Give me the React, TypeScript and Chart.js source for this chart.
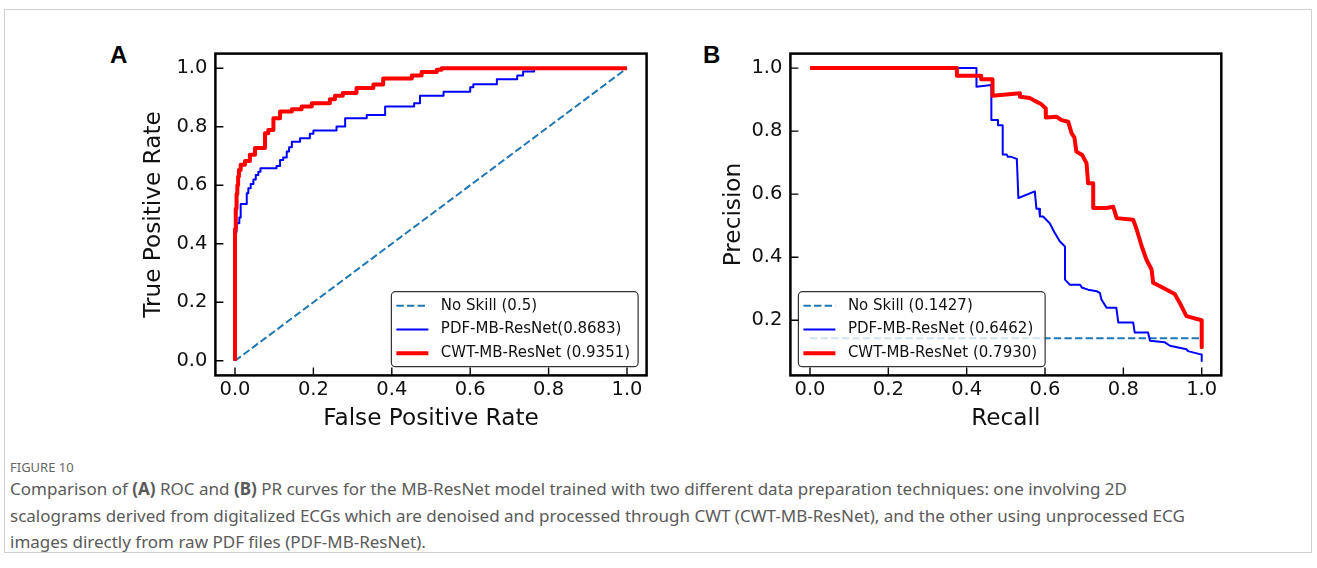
import React, { useEffect, useRef } from "react";
import { Chart, registerables } from "chart.js";

Chart.register(...registerables);

// ---------- data ----------
const X_TICKS = [0, 0.2, 0.4, 0.6, 0.8, 1.0];
const ROC_Y_TICKS = [0, 0.2, 0.4, 0.6, 0.8, 1.0];
const PR_Y_TICKS = [0.2, 0.4, 0.6, 0.8, 1.0];

const ROC_LABELS = ["No Skill (0.5)", "PDF-MB-ResNet(0.8683)", "CWT-MB-ResNet (0.9351)"];
const PR_LABELS = ["No Skill (0.1427)", "PDF-MB-ResNet (0.6462)", "CWT-MB-ResNet (0.7930)"];

const ROC_NOSKILL_FPR = [0, 1];
const ROC_NOSKILL_TPR = [0, 1];

const ROC_PDF_FPR = [0, 0, 0.004, 0.011, 0.0145, 0.03, 0.034, 0.04, 0.047, 0.053, 0.0595, 0.065, 0.106, 0.115, 0.123, 0.132, 0.138, 0.145, 0.166, 0.191, 0.2, 0.259, 0.281, 0.336, 0.383, 0.457, 0.472, 0.532, 0.6, 0.608, 0.668, 0.72, 0.735, 0.763, 1.0];
const ROC_PDF_TPR = [0, 0.44, 0.47, 0.49, 0.536, 0.573, 0.59, 0.604, 0.62, 0.635, 0.646, 0.658, 0.666, 0.686, 0.695, 0.715, 0.73, 0.749, 0.761, 0.776, 0.787, 0.801, 0.829, 0.84, 0.869, 0.88, 0.906, 0.92, 0.935, 0.945, 0.962, 0.975, 0.989, 1.0, 1.0];

const ROC_CWT_FPR = [0, 0, 0.002, 0.004, 0.006, 0.008, 0.01, 0.0145, 0.0255, 0.038, 0.051, 0.0765, 0.085, 0.098, 0.115, 0.145, 0.17, 0.196, 0.242, 0.255, 0.275, 0.31, 0.353, 0.378, 0.451, 0.476, 0.515, 0.527, 1.0];
const ROC_CWT_TPR = [0, 0.45, 0.52, 0.57, 0.6, 0.63, 0.652, 0.67, 0.683, 0.704, 0.727, 0.778, 0.789, 0.829, 0.852, 0.86, 0.869, 0.88, 0.894, 0.906, 0.915, 0.932, 0.944, 0.965, 0.975, 0.987, 0.995, 1.0, 1.0];

const PR_NOSKILL_RECALL = [0, 1];
const PR_NOSKILL_PRECISION = [0.1427, 0.1427];

const PR_PDF_RECALL = [0, 0.425, 0.425, 0.463, 0.463, 0.48, 0.48, 0.492, 0.492, 0.502, 0.505, 0.512, 0.528, 0.532, 0.574, 0.578, 0.585, 0.587, 0.595, 0.612, 0.625, 0.638, 0.651, 0.651, 0.663, 0.689, 0.695, 0.71, 0.732, 0.74, 0.744, 0.757, 0.782, 0.787, 0.825, 0.829, 0.863, 0.868, 0.906, 0.919, 0.961, 0.965, 1.0, 1.0];
const PR_PDF_PRECISION = [1.0, 1.0, 0.941, 0.946, 0.835, 0.835, 0.819, 0.819, 0.726, 0.726, 0.719, 0.719, 0.712, 0.588, 0.609, 0.554, 0.554, 0.529, 0.529, 0.508, 0.477, 0.45, 0.434, 0.329, 0.313, 0.313, 0.303, 0.297, 0.292, 0.287, 0.266, 0.24, 0.24, 0.193, 0.193, 0.161, 0.161, 0.135, 0.13, 0.119, 0.108, 0.102, 0.091, 0.071];

const PR_CWT_RECALL = [0, 0.375, 0.375, 0.437, 0.437, 0.466, 0.466, 0.536, 0.536, 0.561, 0.574, 0.591, 0.602, 0.602, 0.629, 0.642, 0.659, 0.668, 0.675, 0.68, 0.695, 0.706, 0.71, 0.723, 0.723, 0.757, 0.774, 0.783, 0.825, 0.834, 0.847, 0.859, 0.872, 0.876, 0.901, 0.931, 0.944, 0.961, 1.0, 1.0];
const PR_CWT_PRECISION = [1.0, 1.0, 0.976, 0.976, 0.965, 0.965, 0.912, 0.92, 0.909, 0.905, 0.896, 0.885, 0.872, 0.843, 0.846, 0.835, 0.83, 0.793, 0.78, 0.735, 0.724, 0.698, 0.635, 0.635, 0.556, 0.556, 0.56, 0.524, 0.519, 0.488, 0.434, 0.392, 0.361, 0.319, 0.303, 0.283, 0.255, 0.213, 0.2, 0.114];

// ---------- styling ----------
const FONT = "'DejaVu Sans', sans-serif";
const CANVAS_W = 560;
const CANVAS_H = 420;
const AREA_TOP = 23.6;
const AREA_BOTTOM = 345.4;

const pts = (xs: number[], ys: number[]) => xs.map((x, i) => ({ x, y: ys[i] }));

function roundRectPath(ctx: CanvasRenderingContext2D, x: number, y: number, w: number, h: number, r: number) {
  ctx.beginPath();
  ctx.moveTo(x + r, y);
  ctx.lineTo(x + w - r, y);
  ctx.arcTo(x + w, y, x + w, y + r, r);
  ctx.lineTo(x + w, y + h - r);
  ctx.arcTo(x + w, y + h, x + w - r, y + h, r);
  ctx.lineTo(x + r, y + h);
  ctx.arcTo(x, y + h, x, y + h - r, r);
  ctx.lineTo(x, y + r);
  ctx.arcTo(x, y, x + r, y, r);
  ctx.closePath();
}

const mplLegend = {
  id: "mplLegend",
  afterDatasetsDraw(chart: any, _args: any, opts: any) {
    const { ctx, chartArea } = chart;
    const items = chart.data.datasets;
    ctx.save();
    ctx.font = `15px ${FONT}`;
    const textW = Math.max(...items.map((d: any) => ctx.measureText(d.label).width));
    const w = 49.5 + textW + 8;
    const h = 75;
    const bx = opts.corner === "right" ? chartArea.right - 8.5 - w : chartArea.left + 8;
    const by = chartArea.bottom - 8.7 - h;
    roundRectPath(ctx, bx, by, w, h, 4);
    ctx.fillStyle = "rgba(255,255,255,0.8)";
    ctx.fill();
    ctx.lineWidth = 1.2;
    ctx.strokeStyle = "#333";
    ctx.stroke();
    items.forEach((d: any, i: number) => {
      const cy = by + 14 + i * 23.8;
      ctx.beginPath();
      ctx.setLineDash(d.borderDash || []);
      ctx.lineWidth = d.borderWidth;
      ctx.strokeStyle = d.borderColor;
      ctx.lineCap = "butt";
      ctx.moveTo(bx + 5, cy);
      ctx.lineTo(bx + 37, cy);
      ctx.stroke();
      ctx.setLineDash([]);
      ctx.fillStyle = "#111";
      ctx.textBaseline = "middle";
      ctx.textAlign = "left";
      ctx.fillText(d.label, bx + 49.5, cy);
    });
    ctx.restore();
  },
};

const mplFrame = {
  id: "mplFrame",
  afterDatasetsDraw(chart: any) {
    const { ctx, chartArea, scales } = chart;
    const { left, top, right, bottom } = chartArea;
    ctx.save();
    ctx.strokeStyle = "#000";
    ctx.lineWidth = 1.4;
    ctx.beginPath();
    scales.x.ticks.forEach((t: any) => {
      const px = scales.x.getPixelForValue(t.value);
      ctx.moveTo(px, bottom);
      ctx.lineTo(px, bottom - 8);
    });
    scales.y.ticks.forEach((t: any) => {
      const py = scales.y.getPixelForValue(t.value);
      ctx.moveTo(left, py);
      ctx.lineTo(left + 8, py);
    });
    ctx.stroke();
    ctx.lineWidth = 2.5;
    ctx.strokeRect(left, top, right - left, bottom - top);
    ctx.restore();
  },
};

type PanelSpec = {
  labels: string[];
  noSkill: { x: number; y: number }[];
  pdf: { x: number; y: number }[];
  cwt: { x: number; y: number }[];
  stepped: boolean;
  yMin: number;
  yMax: number;
  yTicks: number[];
  xTitle: string;
  yTitle: string;
  yAxisW: number;
  padRight: number;
  corner: "left" | "right";
};

function buildConfig(p: PanelSpec): any {
  const tickFont = { family: FONT, size: 19.5 };
  const titleFont = { family: FONT, size: 23.2 };
  return {
    type: "scatter",
    data: {
      datasets: [
        {
          label: p.labels[0],
          data: p.noSkill,
          showLine: true,
          borderColor: "#1f77b4",
          borderWidth: 2,
          borderDash: [7.4, 3.2],
          pointRadius: 0,
          fill: false,
          order: 2,
        },
        {
          label: p.labels[1],
          data: p.pdf,
          showLine: true,
          stepped: p.stepped ? "before" : false,
          borderColor: "#0000ff",
          borderWidth: 2,
          borderJoinStyle: "round",
          pointRadius: 0,
          fill: false,
          order: 1,
        },
        {
          label: p.labels[2],
          data: p.cwt,
          showLine: true,
          stepped: p.stepped ? "before" : false,
          borderColor: "#ff0000",
          borderWidth: 4,
          borderJoinStyle: "round",
          pointRadius: 0,
          fill: false,
          order: 0,
        },
      ],
    },
    options: {
      animation: false,
      responsive: false,
      maintainAspectRatio: false,
      devicePixelRatio: 1,
      layout: { padding: { left: 0, top: AREA_TOP, right: p.padRight, bottom: 0 } },
      scales: {
        x: {
          type: "linear",
          min: -0.05,
          max: 1.05,
          afterBuildTicks: (s: any) => {
            s.ticks = X_TICKS.map((v) => ({ value: v }));
          },
          afterFit: (s: any) => {
            s.height = CANVAS_H - AREA_BOTTOM;
          },
          grid: { display: false, drawTicks: false },
          border: { display: false },
          ticks: {
            padding: 2.5,
            color: "#111",
            font: tickFont,
            maxRotation: 0,
            autoSkip: false,
            callback: (v: any) => Number(v).toFixed(1),
          },
          title: {
            display: true,
            text: p.xTitle,
            color: "#111",
            font: titleFont,
            padding: { top: 0, bottom: 17.6 },
          },
        },
        y: {
          type: "linear",
          min: p.yMin,
          max: p.yMax,
          afterBuildTicks: (s: any) => {
            s.ticks = p.yTicks.map((v) => ({ value: v }));
          },
          afterFit: (s: any) => {
            s.width = p.yAxisW;
          },
          grid: { display: false, drawTicks: false },
          border: { display: false },
          ticks: {
            padding: 8,
            color: "#111",
            font: tickFont,
            autoSkip: false,
            callback: (v: any) => Number(v).toFixed(1),
          },
          title: {
            display: true,
            text: p.yTitle,
            color: "#111",
            font: titleFont,
            padding: { top: 40, bottom: 0 },
          },
        },
      },
      plugins: {
        legend: { display: false },
        tooltip: { enabled: false },
        mplLegend: { corner: p.corner },
      },
    },
    plugins: [mplLegend, mplFrame],
  };
}

function ChartPanel({ left, top, spec }: { left: number; top: number; spec: PanelSpec }) {
  const ref = useRef<HTMLCanvasElement>(null);
  useEffect(() => {
    const chart = new Chart(ref.current as HTMLCanvasElement, buildConfig(spec));
    return () => chart.destroy();
  }, []);
  return (
    <canvas
      ref={ref}
      width={CANVAS_W}
      height={CANVAS_H}
      style={{ position: "absolute", left, top, width: CANVAS_W, height: CANVAS_H }}
    />
  );
}

const rocSpec: PanelSpec = {
  labels: ROC_LABELS,
  noSkill: pts(ROC_NOSKILL_FPR, ROC_NOSKILL_TPR),
  pdf: pts(ROC_PDF_FPR, ROC_PDF_TPR),
  cwt: pts(ROC_CWT_FPR, ROC_CWT_TPR),
  stepped: true,
  yMin: -0.05,
  yMax: 1.05,
  yTicks: ROC_Y_TICKS,
  xTitle: "False Positive Rate",
  yTitle: "True Positive Rate",
  yAxisW: 115.4,
  padRight: CANVAS_W - 546.6,
  corner: "right",
};

const prSpec: PanelSpec = {
  labels: PR_LABELS,
  noSkill: pts(PR_NOSKILL_RECALL, PR_NOSKILL_PRECISION),
  pdf: pts(PR_PDF_RECALL, PR_PDF_PRECISION),
  cwt: pts(PR_CWT_RECALL, PR_CWT_PRECISION),
  stepped: false,
  yMin: 0.025,
  yMax: 1.046,
  yTicks: PR_Y_TICKS,
  xTitle: "Recall",
  yTitle: "Precision",
  yAxisW: 110.4,
  padRight: CANVAS_W - 541.3,
  corner: "left",
};

const panelLabel: React.CSSProperties = {
  position: "absolute",
  fontFamily: "'Liberation Sans', Arial, sans-serif",
  fontWeight: "bold",
  fontSize: 24,
  lineHeight: "24px",
  color: "#000",
};

const captionLine: React.CSSProperties = {
  position: "absolute",
  left: 10,
  whiteSpace: "nowrap",
  fontFamily: "'Noto Sans', sans-serif",
  fontSize: 17,
  lineHeight: "26px",
  color: "#5a5a5a",
};

export default function App() {
  return (
    <div style={{ position: "absolute", left: 0, top: 0, width: 1317, height: 568, background: "#fff", overflow: "hidden" }}>
      <div
        style={{
          position: "absolute",
          left: 4,
          top: 9,
          width: 1308,
          height: 544,
          border: "1px solid #cfcfcf",
          boxSizing: "border-box",
        }}
      />
      <div style={{ ...panelLabel, left: 110, top: 43 }}>A</div>
      <div style={{ ...panelLabel, left: 703, top: 43 }}>B</div>
      <ChartPanel left={100} top={30} spec={rocSpec} />
      <ChartPanel left={680} top={30} spec={prSpec} />
      <div
        style={{
          position: "absolute",
          left: 10,
          top: 460,
          fontFamily: "'Noto Sans', sans-serif",
          fontSize: 13,
          lineHeight: "14px",
          color: "#666",
          whiteSpace: "nowrap",
        }}
      >
        FIGURE 10
      </div>
      <div style={{ ...captionLine, top: 476 }}>
        Comparison of <b>(A)</b> ROC and <b>(B)</b> PR curves for the MB-ResNet model trained with two different data preparation techniques: one involving 2D
      </div>
      <div style={{ ...captionLine, top: 502.5 }}>
        scalograms derived from digitalized ECGs which are denoised and processed through CWT (CWT-MB-ResNet), and the other using unprocessed ECG
      </div>
      <div style={{ ...captionLine, top: 529 }}>images directly from raw PDF files (PDF-MB-ResNet).</div>
    </div>
  );
}
